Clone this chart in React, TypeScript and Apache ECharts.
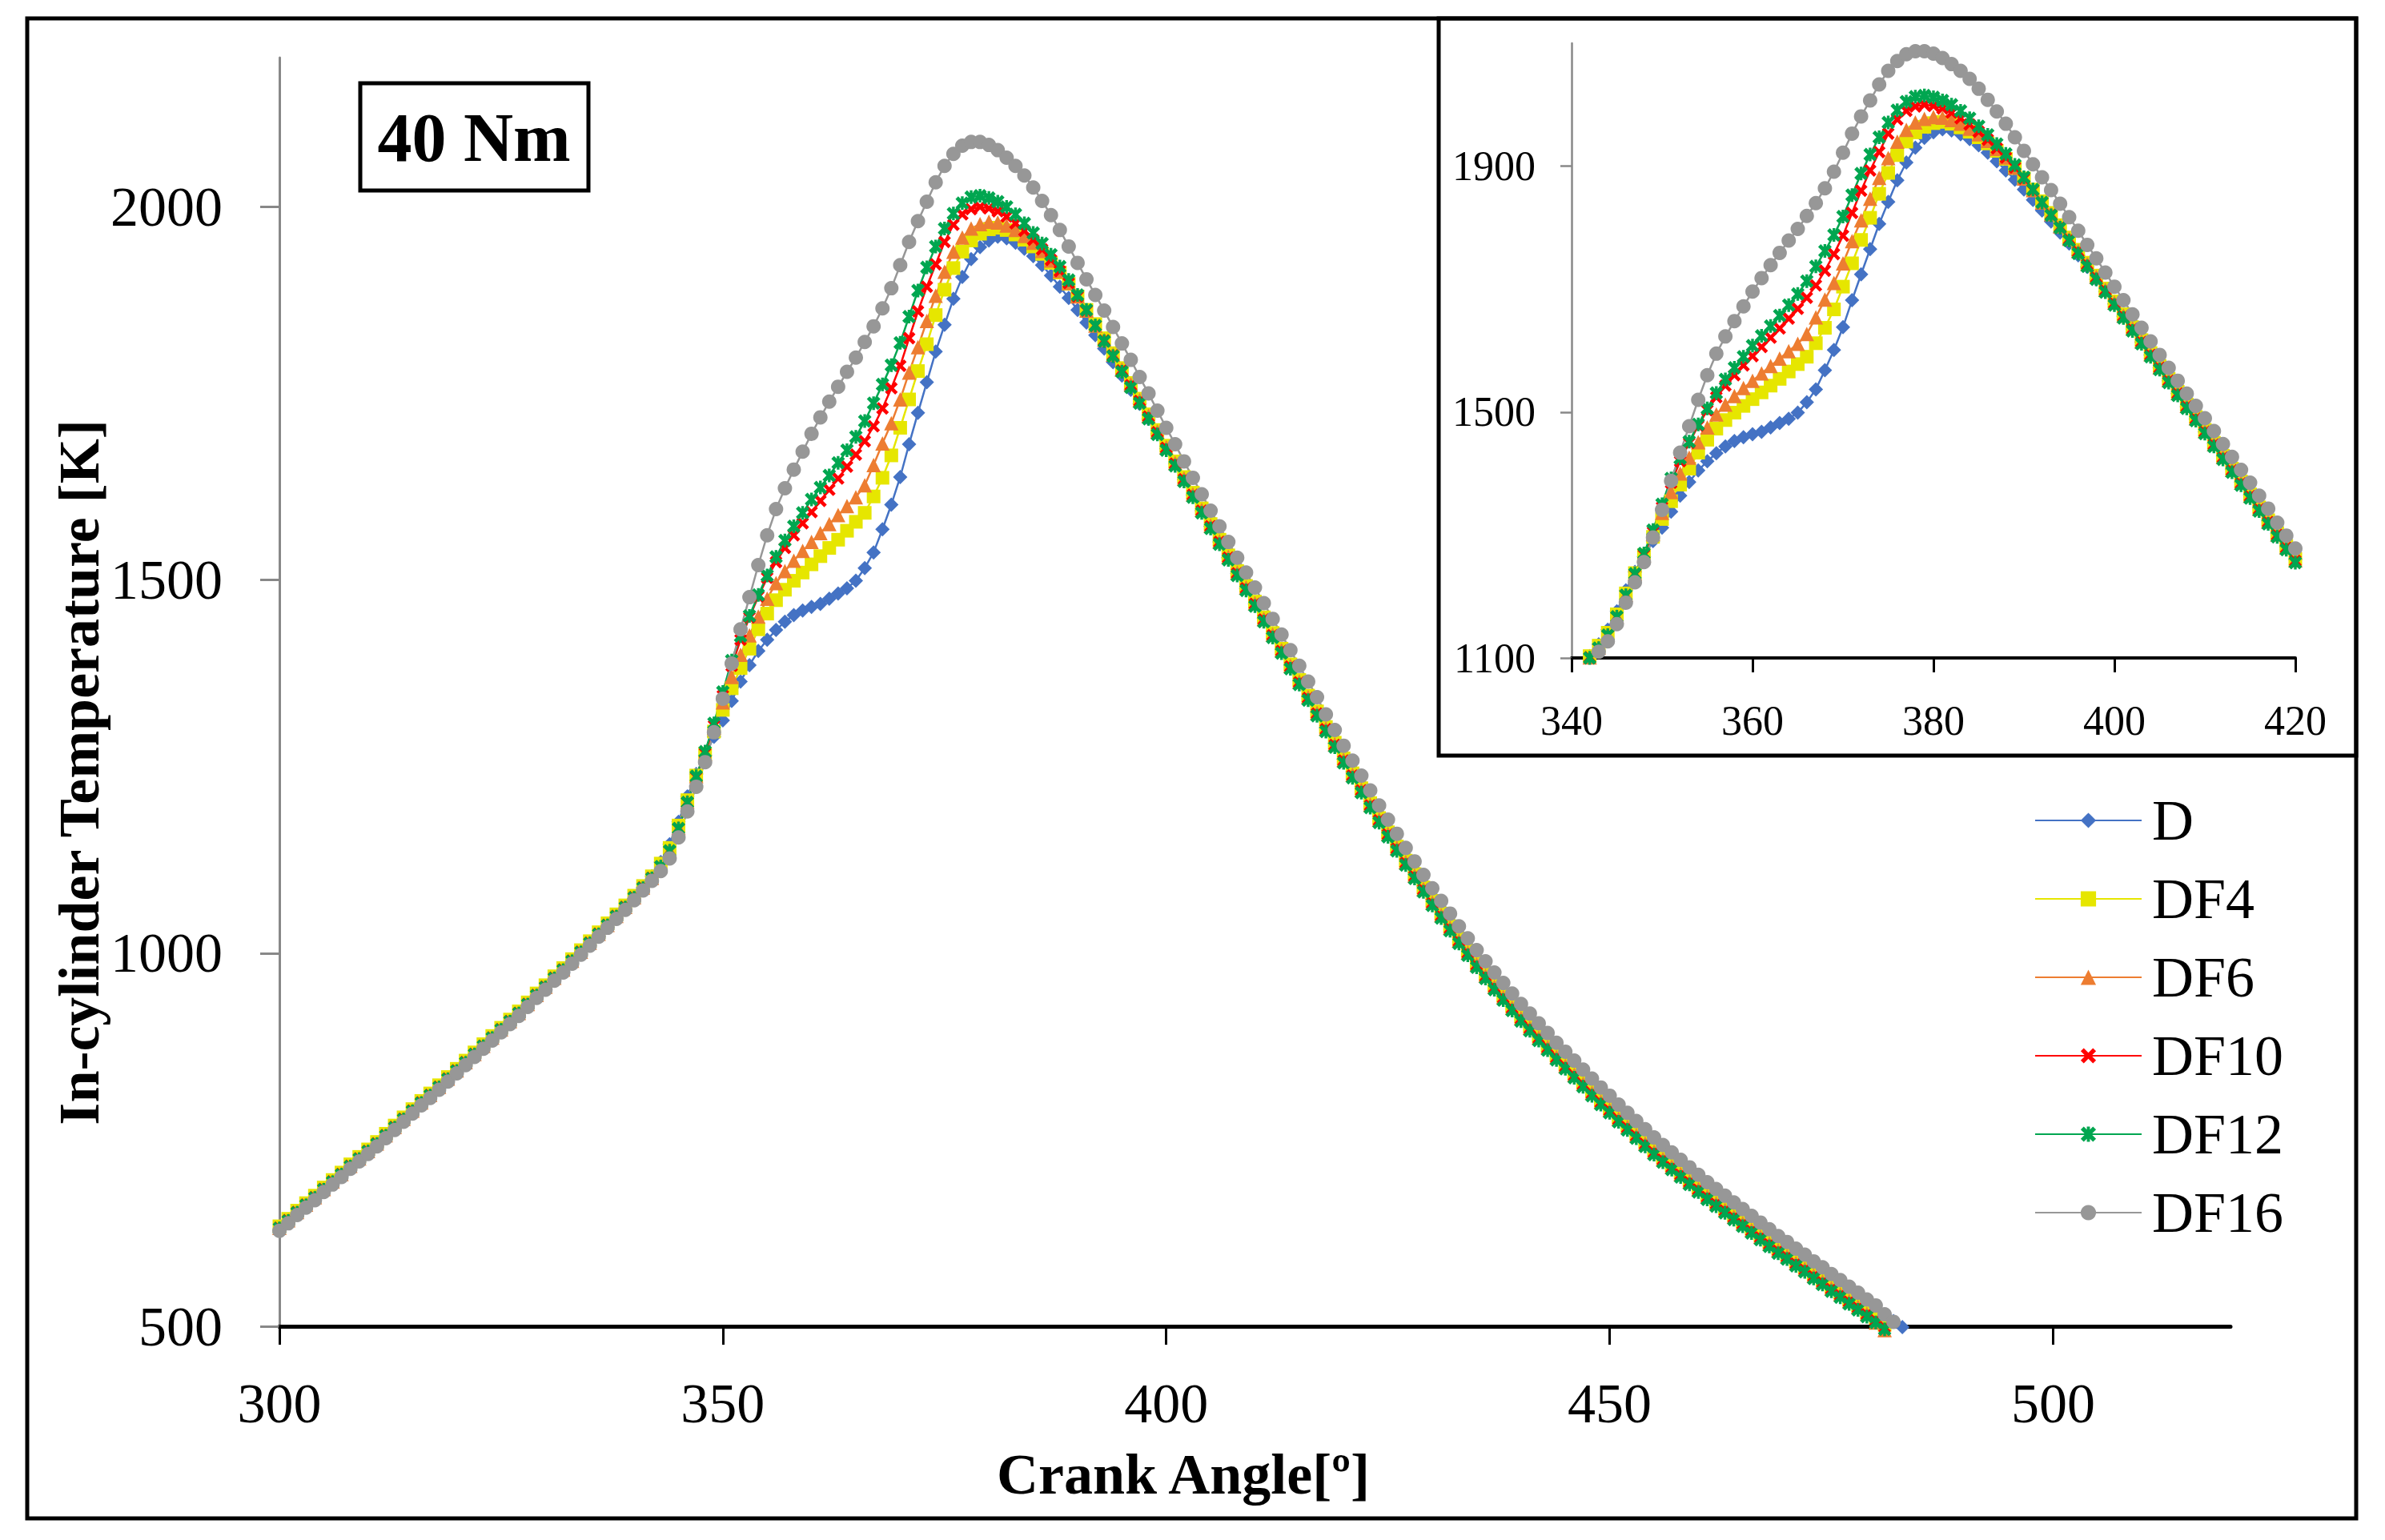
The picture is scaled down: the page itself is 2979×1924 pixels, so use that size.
import React, { useEffect, useRef } from 'react';
import * as echarts from 'echarts';

const SERIES_NAMES = ['D', 'DF4', 'DF6', 'DF10', 'DF12', 'DF16'];
const START_ANGLE = 300; // crank angle of the first point, one point per degree

const MAIN_X_TICKS = [300, 350, 400, 450, 500];
const MAIN_Y_TICKS = [500, 1000, 1500, 2000];
const INSET_X_TICKS = [340, 360, 380, 400, 420];
const INSET_Y_TICKS = [1100, 1500, 1900];

const D_TEMP = [
  629,639,650,660,670,681,691,701,712,722,
  732,742,753,764,775,786,797,807,818,829,
  840,851,862,873,884,895,906,917,929,941,
  952,964,975,987,999,1011,1023,1035,1047,1059,
  1073,1088,1103,
  1122,1146,1176,1210,1240,1265,1290,1312,1338,1364,
  1386,1405,1420,1433,1444,1453,1459,1464,1468,1475,
  1482,1489,1499,1516,1537,1568,1601,1638,1682,1724,
  1765,1806,1842,1877,1906,1930,1946,1955,1960,1958,
  1952,1944,1934,1922,1908,1893,1878,1862,1845,1828,
  1810,1792,1774,1755,1736,1716,1696,1676,
  1656,1635,1614,1593,1572,1551,1530,1509,1489,1468,
  1449,1428,1407,1386,1365,1344,1323,1302,1281,1260,
  1243,1223,1203,1183,1164,1145,1126,1108,1090,1072,
  1058,1041,1024,1008,992,977,962,948,934,920,
  910,897,884,871,859,847,835,823,811,800,
  791,780,769,758,747,737,727,717,707,697,
  689,680,671,662,653,644,635,626,617,609,
  600,592,583,575,566,558,549,541,532,524,
  515,507,499,
];

const DF4_TEMP = [
  634,644,655,665,675,686,696,706,717,727,
  737,747,758,769,780,791,802,812,823,834,
  845,856,867,878,889,900,911,922,934,946,
  957,969,980,992,1004,1016,1028,1040,1052,1064,
  1077,1090,1103,
  1120,1141,1171,1205,1238,1267,1297,1326,1355,1382,
  1408,1434,1455,1473,1487,1499,1510,1521,1532,1543,
  1554,1566,1578,1590,1612,1637,1667,1704,1742,1780,
  1816,1855,1889,1918,1940,1955,1964,1970,1972,1969,
  1963,1956,1947,1937,1925,1912,1897,1880,1862,1843,
  1824,1804,1784,
  1764,1743,1722,1701,1680,1659,1638,1617,1596,1575,
  1554,1533,1512,1492,1471,1450,1429,1408,1387,1366,
  1345,1324,1303,1282,1261,1241,1221,1201,1181,1162,
  1143,1124,1106,1088,1070,1053,1036,1019,1003,987,
  972,957,943,929,915,902,889,876,863,851,
  839,827,815,803,792,780,769,758,747,736,
  726,716,706,696,686,676,667,658,649,640,
  631,622,613,604,596,587,579,570,562,553,
  545,536,528,519,511,502,
];

const DF6_TEMP = [
  632,642,653,663,673,684,694,704,715,725,
  735,745,756,767,778,789,800,810,821,832,
  843,854,865,876,887,898,909,920,932,944,
  955,967,978,990,1002,1014,1026,1038,1050,1062,
  1075,1088,1101,
  1117,1138,1168,1203,1237,1267,1302,1336,1370,1400,
  1426,1451,1475,1496,1512,1526,1539,1551,1563,1575,
  1587,1599,1611,1627,1654,1683,1710,1742,1778,1812,
  1847,1881,1913,1940,1959,1971,1977,1980,1979,1975,
  1969,1961,1952,1941,1928,1914,1898,1880,1861,1841,
  1822,1802,1782,
  1762,1741,1720,1699,1678,1657,1636,1615,1594,1573,
  1552,1531,1510,1490,1469,1448,1427,1406,1385,1364,
  1343,1322,1301,1280,1259,1239,1219,1199,1179,1160,
  1141,1122,1104,1086,1068,1051,1034,1017,1001,985,
  970,955,941,927,913,900,887,874,861,849,
  837,825,813,801,790,778,767,756,745,734,
  724,714,704,694,684,674,665,656,647,638,
  629,620,611,602,594,585,577,568,560,551,
  543,534,526,517,505,495,
];

const DF10_TEMP = [
  632,642,653,663,673,684,694,704,715,725,
  735,745,756,767,778,789,800,810,821,832,
  843,854,865,876,887,898,909,920,932,944,
  955,967,978,990,1002,1014,1026,1038,1050,1062,
  1075,1088,1101,
  1116,1137,1167,1202,1236,1268,1305,1345,1385,1420,
  1450,1478,1503,1524,1543,1560,1576,1591,1606,1621,
  1636,1652,1668,1686,1706,1730,1757,1787,1824,1860,
  1893,1923,1953,1976,1990,1997,2000,1998,1994,1987,
  1978,1968,1956,1943,1929,1914,1898,1880,1861,1841,
  1821,1801,1781,
  1761,1740,1719,1698,1677,1656,1635,1614,1593,1572,
  1551,1530,1509,1489,1468,1447,1426,1405,1384,1363,
  1342,1321,1300,1279,1258,1238,1218,1198,1178,1159,
  1140,1121,1103,1085,1067,1050,1033,1016,1000,984,
  969,954,940,926,912,899,886,873,860,848,
  836,824,812,800,789,777,766,755,744,733,
  723,713,703,693,683,673,664,655,646,637,
  628,619,610,601,593,584,576,567,559,550,
  542,533,525,516,508,499,
];

const DF12_TEMP = [
  631,641,652,662,672,683,693,703,714,724,
  734,744,755,766,777,788,799,809,820,831,
  842,853,864,875,886,897,908,919,931,943,
  954,966,977,989,1001,1013,1025,1037,1049,1061,
  1074,1087,1100,
  1116,1137,1167,1202,1237,1270,1308,1350,1392,1425,
  1452,1480,1506,1531,1553,1572,1590,1608,1624,1640,
  1657,1674,1692,1713,1737,1762,1788,1818,1853,1888,
  1919,1947,1971,1991,2005,2013,2015,2012,2007,2000,
  1990,1978,1965,1951,1936,1920,1902,1882,1862,1841,
  1820,1800,1779,
  1758,1737,1716,1695,1674,1653,1632,1611,1590,1569,
  1548,1527,1506,1486,1465,1444,1423,1402,1381,1360,
  1339,1318,1297,1276,1255,1235,1215,1195,1175,1156,
  1137,1118,1100,1082,1064,1047,1030,1013,997,981,
  966,951,937,923,909,896,883,870,857,845,
  833,821,809,797,786,774,763,752,741,730,
  720,710,700,690,680,670,661,652,643,634,
  625,616,607,598,590,581,573,564,556,547,
  539,530,522,513,505,496,
];

const DF16_TEMP = [
  628,638,649,659,669,680,690,700,711,721,
  731,741,752,763,774,785,796,806,817,828,
  839,850,861,872,883,894,905,916,928,940,
  951,963,974,986,998,1010,1022,1034,1046,1058,
  1071,1084,1097,
  1110,1127,1155,1190,1223,1256,1296,1341,1388,1434,
  1477,1520,1560,1595,1623,1648,1672,1696,1718,1739,
  1759,1779,1798,1819,1840,1864,1891,1922,1953,1981,
  2007,2033,2055,2071,2082,2087,2087,2083,2076,2066,
  2055,2042,2026,2008,1989,1969,1947,1925,1903,1882,
  1861,1839,1817,1795,1772,1750,1727,1704,1682,1659,
  1637,1615,1593,1572,1551,1530,1510,1490,
  1469,1448,1427,1406,1385,1364,1343,1320,1299,1278,
  1258,1238,1218,1198,1179,1160,1141,1123,1105,1087,
  1070,1053,1036,1020,1004,989,974,960,946,932,
  919,906,893,880,868,856,844,832,820,809,
  797,786,775,764,753,743,733,723,713,703,
  693,684,675,666,657,648,639,630,621,613,
  604,596,587,579,570,562,553,545,536,528,
  516,506,
];

const SERIES_VALUES = [D_TEMP, DF4_TEMP, DF6_TEMP, DF10_TEMP, DF12_TEMP, DF16_TEMP];
const SERIES_COLORS = ['#4472C4', '#E6E600', '#ED7D31', '#FF0000', '#00A650', '#979797'];

const X_MARK = 'path://M2,0 L5,3 L8,0 L10,2 L7,5 L10,8 L8,10 L5,7 L2,10 L0,8 L3,5 L0,2 Z';
const STAR_MARK =
  'path://M2,0 L5,3 L8,0 L10,2 L7,5 L10,8 L8,10 L5,7 L2,10 L0,8 L3,5 L0,2 Z M4,0 L6,0 L6,10 L4,10 Z';
const SERIES_SYMBOLS = ['diamond', 'rect', 'triangle', X_MARK, STAR_MARK, 'circle'];
const SERIES_SYMBOL_SIZES = [18, 17, 18, 16, 17, 18];

const FONT = 'Liberation Serif';
const plainNumber = (v: number) => String(v);

function buildSeries(axisIndex: number) {
  return SERIES_NAMES.map((name, k) => ({
    type: 'line',
    name,
    xAxisIndex: axisIndex,
    yAxisIndex: axisIndex,
    data: SERIES_VALUES[k].map((v, i) => [START_ANGLE + i, v]),
    symbol: SERIES_SYMBOLS[k],
    symbolSize: SERIES_SYMBOL_SIZES[k],
    showAllSymbol: true,
    clip: axisIndex === 1,
    silent: true,
    lineStyle: { color: SERIES_COLORS[k], width: 2.5 },
    itemStyle: { color: SERIES_COLORS[k], borderWidth: 0 },
    emphasis: { disabled: true },
  }));
}

export default function App() {
  const ref = useRef<HTMLDivElement>(null);

  useEffect(() => {
    if (!ref.current) return;
    const chart = echarts.init(ref.current, null, { renderer: 'svg' });
    const option: any = {
      animation: false,
      backgroundColor: '#ffffff',
      textStyle: { fontFamily: FONT },
      grid: [
        { left: 349, top: 72, width: 2437, height: 1585 },
        { left: 1963, top: 54, width: 904, height: 768 },
      ],
      legend: {
        data: SERIES_NAMES,
        orient: 'vertical',
        left: 2536,
        top: 984,
        itemWidth: 133,
        itemHeight: 24,
        itemGap: 26,
        selectedMode: false,
        textStyle: { fontFamily: FONT, fontSize: 72, color: '#000', padding: [0, 0, 0, 8] },
      },
      xAxis: [
        {
          type: 'value',
          gridIndex: 0,
          min: 300,
          max: 520,
          interval: 50,
          axisLine: { show: true, onZero: false, lineStyle: { color: '#000', width: 5 } },
          axisTick: {
            show: true,
            length: 23,
            lineStyle: { color: '#000', width: 3 },
            customValues: MAIN_X_TICKS,
          },
          axisLabel: {
            margin: 61,
            fontSize: 70,
            fontFamily: FONT,
            color: '#000',
            formatter: plainNumber,
            customValues: MAIN_X_TICKS,
          },
          splitLine: { show: false },
        },
        {
          type: 'value',
          gridIndex: 1,
          min: 340,
          max: 420,
          interval: 20,
          axisLine: { show: true, onZero: false, lineStyle: { color: '#000', width: 4 } },
          axisTick: {
            show: true,
            length: 18,
            lineStyle: { color: '#000', width: 3 },
            customValues: INSET_X_TICKS,
          },
          axisLabel: {
            margin: 52,
            fontSize: 52,
            fontFamily: FONT,
            color: '#000',
            formatter: plainNumber,
            customValues: INSET_X_TICKS,
          },
          splitLine: { show: false },
        },
      ],
      yAxis: [
        {
          type: 'value',
          gridIndex: 0,
          min: 500,
          max: 2200,
          axisLine: { show: true, onZero: false, lineStyle: { color: '#888888', width: 3 } },
          axisTick: {
            show: true,
            length: 24,
            lineStyle: { color: '#888888', width: 3 },
            customValues: MAIN_Y_TICKS,
          },
          axisLabel: {
            margin: 71,
            fontSize: 70,
            fontFamily: FONT,
            color: '#000',
            formatter: plainNumber,
            customValues: MAIN_Y_TICKS,
          },
          splitLine: { show: false },
        },
        {
          type: 'value',
          gridIndex: 1,
          min: 1100,
          max: 2100,
          axisLine: { show: true, onZero: false, lineStyle: { color: '#888888', width: 2.5 } },
          axisTick: {
            show: true,
            length: 14,
            lineStyle: { color: '#888888', width: 2.5 },
            customValues: INSET_Y_TICKS,
          },
          axisLabel: {
            margin: 45,
            fontSize: 52,
            fontFamily: FONT,
            color: '#000',
            formatter: plainNumber,
            customValues: INSET_Y_TICKS,
          },
          splitLine: { show: false },
        },
      ],
      graphic: [
        {
          type: 'rect',
          shape: { x: 34, y: 23, width: 2909, height: 1874 },
          style: { fill: 'none', stroke: '#000', lineWidth: 5 },
          silent: true,
        },
        {
          type: 'rect',
          shape: { x: 1797, y: 23, width: 1146, height: 921 },
          style: { fill: 'none', stroke: '#000', lineWidth: 5 },
          silent: true,
        },
        {
          type: 'rect',
          shape: { x: 450, y: 104, width: 285, height: 134 },
          style: { fill: '#fff', stroke: '#000', lineWidth: 5 },
          silent: true,
        },
        {
          type: 'text',
          x: 592,
          y: 172,
          style: {
            text: '40 Nm',
            font: `bold 86px "${FONT}"`,
            fill: '#000',
            align: 'center',
            verticalAlign: 'middle',
          },
          silent: true,
        },
        {
          type: 'text',
          x: 1478,
          y: 1842,
          style: {
            text: 'Crank Angle[º]',
            font: `bold 72px "${FONT}"`,
            fill: '#000',
            align: 'center',
            verticalAlign: 'middle',
          },
          silent: true,
        },
        {
          type: 'text',
          x: 99,
          y: 965,
          rotation: Math.PI / 2,
          style: {
            text: 'In-cylinder Temperature [K]',
            font: `bold 72px "${FONT}"`,
            fill: '#000',
            align: 'center',
            verticalAlign: 'middle',
          },
          silent: true,
        },
      ],
      series: [...buildSeries(0), ...buildSeries(1)],
    };
    chart.setOption(option);
    return () => chart.dispose();
  }, []);

  return (
    <div
      ref={ref}
      style={{ position: 'fixed', left: 0, top: 0, width: 2979, height: 1924, background: '#fff' }}
    />
  );
}
